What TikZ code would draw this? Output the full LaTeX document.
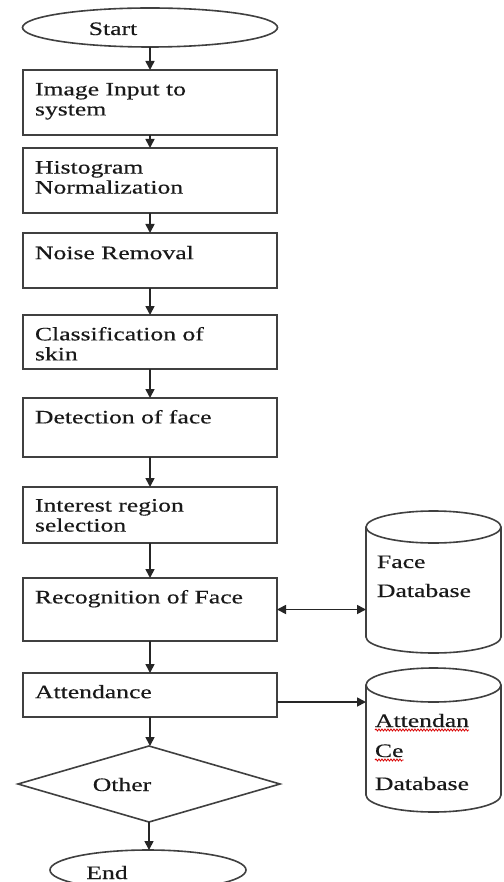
\documentclass[tikz,border=0pt]{standalone}
\usepackage{fontspec}
\setmainfont{Liberation Serif}[FakeStretch=1.35,FakeBold=0.4]
\usetikzlibrary{arrows.meta,shapes.geometric,decorations.pathmorphing,calc}
\begin{document}
\begin{tikzpicture}[x=1pt,y=-1pt,
  every node/.style={inner sep=0pt, outer sep=0pt},
  flowbox/.style={draw=black!75, rectangle, minimum width=254pt, line width=1.7pt},
  term/.style={draw=black!75, ellipse, line width=1.6pt},
  txt/.style={font=\fontsize{19}{20}\selectfont, text=black!90, align=left},
  cyl/.style={draw=black!75, line width=1.6pt},
  arr/.style={draw=black!85, line width=1.7pt, -{Triangle[length=9pt,width=9pt]}},
  darr/.style={draw=black!85, line width=1.7pt, {Triangle[length=9pt,width=9pt]}-{Triangle[length=9pt,width=9pt]}},
  wavy/.style={draw=red!85!black, line width=0.8pt, decorate, decoration={snake, amplitude=1pt, segment length=3pt}}
]
\useasboundingbox (0,0) rectangle (503,882);
\clip (0,0) rectangle (503,882);
\fill[white] (0,0) rectangle (503,882);

% terminals
\node[term, minimum width=255pt, minimum height=39pt] (start) at (150,27.5) {};
\node[txt, anchor=base] (startt) at (113,35) {Start};

% process boxes
\node[flowbox, minimum height=65pt] (b1) at (150,102.5) {};
\node[flowbox, minimum height=65pt] (b2) at (150,180.5) {};
\node[flowbox, minimum height=55pt] (b3) at (150,260.5) {};
\node[flowbox, minimum height=54pt] (b4) at (150,342) {};
\node[flowbox, minimum height=59pt] (b5) at (150,427.5) {};
\node[flowbox, minimum height=56pt] (b6) at (150,515) {};
\node[flowbox, minimum height=63pt] (b7) at (150,609.5) {};
\node[flowbox, minimum height=44pt] (b8) at (150,695) {};

\node[txt, anchor=north west] (t1) at ($(b1.north west)+(12,13)$) {Image Input to\\system};
\node[txt, anchor=north west] (t2) at ($(b2.north west)+(12,13)$) {Histogram\\Normalization};
\node[txt, anchor=north west] (t3) at ($(b3.north west)+(12,13)$) {Noise Removal};
\node[txt, anchor=north west] (t4) at ($(b4.north west)+(12,12)$) {Classification of\\skin};
\node[txt, anchor=north west] (t5) at ($(b5.north west)+(12,12)$) {Detection of face};
\node[txt, anchor=north west] (t6) at ($(b6.north west)+(12,12)$) {Interest region\\selection};
\node[txt, anchor=north west] (t7) at ($(b7.north west)+(12,12)$) {Recognition of Face};
\node[txt, anchor=north west] (t8) at ($(b8.north west)+(12,12)$) {Attendance};

% decision
\node[draw=black!75, line width=1.6pt, diamond, minimum width=262pt, minimum height=76pt] (dec) at (149,784) {};
\node[txt, anchor=base] (dect) at (122,791) {Other};

% end
\node[term, minimum width=196pt, minimum height=40pt] (end) at (148,870) {};
\node[txt, anchor=base] (endt) at (107,879) {End};

% databases
\node[minimum width=135pt, minimum height=142pt] (fdb) at (433.5,582) {};
\draw[cyl] (366,527) -- (366,637) arc[start angle=180, end angle=360, x radius=67.5pt, y radius=16pt] -- (501,527);
\draw[cyl] (433.5,527) ellipse[x radius=67.5pt, y radius=16pt];
\node[txt, anchor=base west] (f1) at (377,568) {Face};
\node[txt, anchor=base west] (f2) at (377,597) {Database};

\node[minimum width=135pt, minimum height=144pt] (adb) at (433.5,740) {};
\draw[cyl] (366,685) -- (366,795) arc[start angle=180, end angle=360, x radius=67.5pt, y radius=17pt] -- (501,685);
\draw[cyl] (433.5,685) ellipse[x radius=67.5pt, y radius=17pt];
\node[txt, anchor=base west] (a1) at (375,727) {Attendan};
\node[txt, anchor=base west] (a2) at (375,757) {Ce};
\node[txt, anchor=base west] (a3) at (375,790) {Database};
\draw[wavy] ($(a1.base west)+(0,3)$) -- ($(a1.base east)+(0,3)$);
\draw[wavy] ($(a2.base west)+(0,3)$) -- ($(a2.base east)+(0,3)$);

% connectors
\draw[arr] (start) -- (b1);
\draw[arr] (b1) -- (b2);
\draw[arr] (b2) -- (b3);
\draw[arr] (b3) -- (b4);
\draw[arr] (b4) -- (b5);
\draw[arr] (b5) -- (b6);
\draw[arr] (b6) -- (b7);
\draw[arr] (b7) -- (b8);
\draw[arr] (b8.south) -- (b8.south |- dec.north);
\draw[arr] (dec.south) -- (dec.south |- end.north);
\draw[darr] (b7.east) -- (b7.east -| fdb.west);
\coordinate (aout) at ($(b8.east)+(0,7)$);
\draw[arr] (aout) -- (aout -| adb.west);
\end{tikzpicture}
\end{document}
